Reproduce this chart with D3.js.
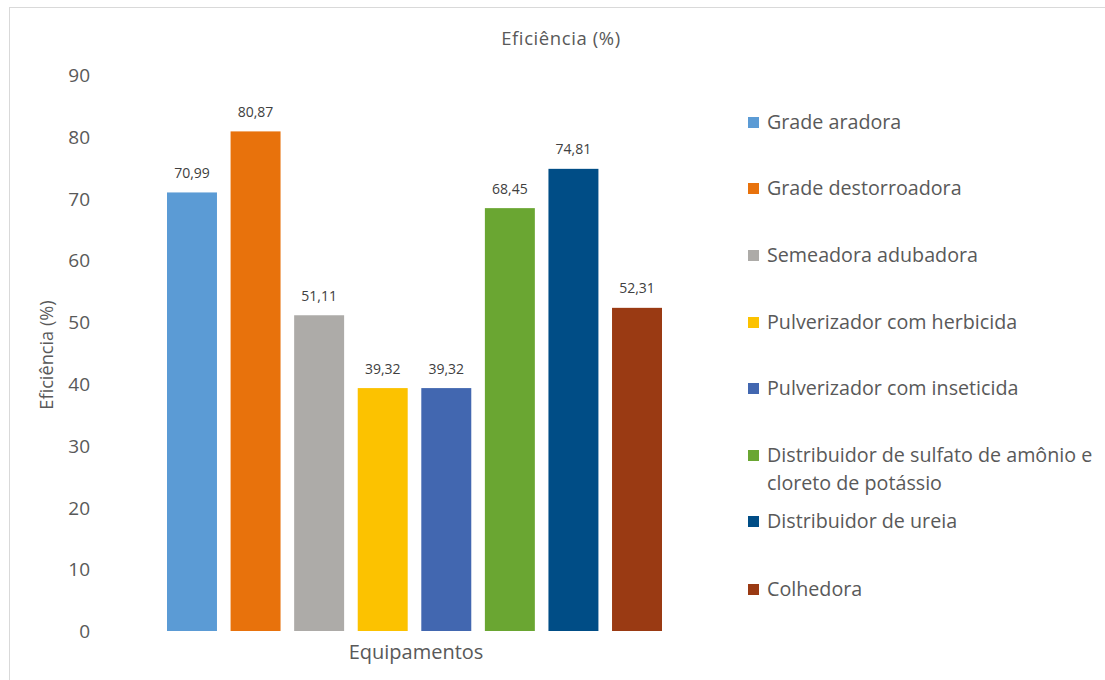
<!DOCTYPE html>
<html><head><meta charset="utf-8">
<script src="https://cdn.jsdelivr.net/npm/d3@7"></script>
<style>body{margin:0;background:#fff;} svg{display:block;}</style>
</head><body>
<svg id="chart" width="1105" height="680"></svg>
<script>
const categories = ["Grade aradora","Grade destorroadora","Semeadora adubadora","Pulverizador com herbicida","Pulverizador com inseticida","Distribuidor de sulfato de amônio e cloreto de potássio","Distribuidor de ureia","Colhedora"];
const values = [70.99, 80.87, 51.11, 39.32, 39.32, 68.45, 74.81, 52.31];
const colors = ["#5B9BD5","#E8720C","#ADABA8","#FCC200","#4267B0","#6AA632","#004D86","#9A3A13"];
const yTicks = [0,10,20,30,40,50,60,70,80,90];
const legendLines = [["Grade aradora"],["Grade destorroadora"],["Semeadora adubadora"],["Pulverizador com herbicida"],["Pulverizador com inseticida"],["Distribuidor de sulfato de amônio e","cloreto de potássio"],["Distribuidor de ureia"],["Colhedora"]];
const title = "Eficiência (%)", xTitle = "Equipamentos", yTitle = "Eficiência (%)";

const svg = d3.select("#chart");
const font = "'Open Sans', sans-serif";
const txt = "#595959";

svg.append("rect").attr("x",9.5).attr("y",7.5).attr("width",1200).attr("height",800)
  .attr("fill","#fff").attr("stroke","#d9d9d9").attr("stroke-width",1);

const x = d3.scaleBand().domain(categories).range([160.2, 668.8]).paddingInner(0.214).paddingOuter(0.107);
const y = d3.scaleLinear().domain([0,90]).range([631, 75]);

// y axis
const yAxis = d3.axisLeft(y).tickValues(yTicks).tickSize(0).tickPadding(0).tickFormat(d3.format("d"));
const ga = svg.append("g").attr("transform","translate(90,0)").call(yAxis);
ga.select(".domain").remove();
ga.selectAll("text").attr("font-family",font).attr("font-size",19).attr("fill",txt).attr("dy","0.35em");

// bars
svg.append("g").selectAll("rect").data(values).join("rect")
  .attr("x",(d,i)=>x(categories[i])).attr("width",x.bandwidth())
  .attr("y",d=>y(d)).attr("height",d=>y(0)-y(d))
  .attr("fill",(d,i)=>colors[i]);

// data labels
const fmt = d => d.toFixed(2).replace(".", ",");
svg.append("g").selectAll("text").data(values).join("text")
  .attr("x",(d,i)=>x(categories[i])+x.bandwidth()/2).attr("y",d=>y(d)-14.5)
  .attr("text-anchor","middle").attr("font-family",font).attr("font-size",14).attr("fill","#404040")
  .text(fmt);

// titles
svg.append("text").attr("x",561).attr("y",45).attr("text-anchor","middle")
  .attr("font-family",font).attr("font-size",18.5).attr("letter-spacing",0.6).attr("fill",txt).text(title);
svg.append("text").attr("x",416).attr("y",659).attr("text-anchor","middle")
  .attr("font-family",font).attr("font-size",20).attr("fill",txt).text(xTitle);
svg.append("text").attr("transform","translate(53,355) rotate(-90)").attr("text-anchor","middle")
  .attr("font-family",font).attr("font-size",18.2).attr("fill",txt).text(yTitle);

// legend
const legendY = [122,188,255,322,388,455,521,589];
const lg = svg.append("g");
legendLines.forEach((lines,i)=>{
  const g = lg.append("g").attr("transform",`translate(748,${legendY[i]})`);
  g.append("rect").attr("x",0).attr("y",-5).attr("width",11).attr("height",11).attr("fill",colors[i]);
  const t = g.append("text").attr("x",19).attr("y",0)
    .attr("font-family",font).attr("font-size",19.7).attr("fill",txt);
  lines.forEach((l,j)=>t.append("tspan").attr("x",19).attr("dy", j===0 ? "0.35em" : "1.42em").text(l));
});
</script>
</body></html>
